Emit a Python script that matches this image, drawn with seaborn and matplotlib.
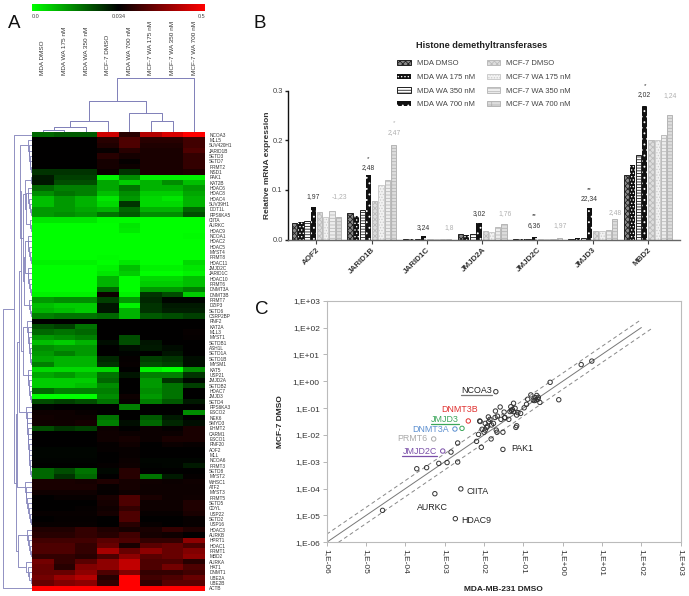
import numpy as np
import pandas as pd
import matplotlib
matplotlib.use("Agg")
import matplotlib.pyplot as plt
import seaborn as sns
from matplotlib.colors import LinearSegmentedColormap

W, H = 689, 596

# ---- panel A data
col_labels = ["MDA DMSO", "MDA WA 175 nM", "MDA WA 350 nM", "MCF-7 DMSO", "MDA WA 700 nM",
              "MCF-7 WA 175 nM", "MCF-7 WA 350 nM", "MCF-7 WA 700 nM"]
row_labels = ["NCOA3", "MLL5", "SUV420H1", "JARID1B", "SETD3", "SETD7", "PRMT2", "NSD1", "PAK1", "KAT2B",
              "HDAC6", "HDAC8", "HDAC4", "SUV39H1", "DOT1L", "RPS6KA5", "CIITA", "AURKC", "HDAC9", "NCOA1",
              "HDAC2", "HDAC5", "MYST4", "PRMT8", "HDAC11", "JMJD2C", "JARID1C", "HDAC10", "PRMT6", "DNMT3A",
              "DNMT3B", "PRMT7", "DZIP3", "SETD6", "CSRP2BP", "RNF2", "KAT2A", "MLL3", "MYST1", "SETDB1",
              "ASH1L", "SETD1A", "SETD1B", "MYSM1", "KAT5", "USP21", "JMJD2A", "SETDB2", "HDAC7", "JMJD3",
              "SETD4", "RPS6KA3", "ESCO2", "NEK6", "SMYD3", "EHMT2", "CARM1", "ESCO1", "RNF20", "AOF2",
              "MLL", "NCOA6", "PRMT3", "SETD8", "MYST2", "WHSC1", "ATF2", "MYST3", "PRMT5", "SETD5",
              "CDYL", "USP22", "SETD2", "USP16", "HDAC3", "AURKB", "HPRT1", "HDAC1", "PRMT1", "MBD2",
              "AURKA", "HAT1", "DNMT1", "UBE2A", "UBE2B", "ACTB"]
# -1 = brightest green, 0 = black, 1 = brightest red
heat_rows = [
    [-.4, -.35, -.35, .8, .15, .7, .85, 1],
    [0, 0, 0, .15, .3, .15, .15, .25],
    [0, 0, 0, .12, .3, .12, .12, .25],
    [0, 0, 0, .03, .15, .1, .1, .3],
    [0, 0, 0, .15, .08, .1, .1, .2],
    [0, 0, 0, .08, .02, .1, .1, .2],
    [0, 0, 0, .08, .05, .1, .1, .2],
    [-.2, -.2, -.2, .04, -.2, .1, .1, .12],
    [-.1, -.25, -.25, -.95, -.55, -.95, -.95, -.95],
    [-.08, -.3, -.3, -.65, -.8, -.7, -.55, -.75],
    [-.4, -.5, -.5, -.65, -.45, -.7, -.7, -.6],
    [-.55, -.45, -.5, -.75, -.55, -.8, -.8, -.65],
    [-.75, -.6, -.7, -.9, -.6, -.85, -.9, -.7],
    [-.75, -.6, -.7, -.85, -.2, -.85, -.85, -.7],
    [-.6, -.6, -.65, -.7, -.4, -.7, -.7, -.4],
    [-.6, -.55, -.6, -.45, -.35, -.55, -.55, -.3],
    [-.9, -.9, -.9, -.98, -.98, -1, -1, -1],
    [-1, -1, -1, -1, -.9, -1, -1, -1],
    [-1, -1, -1, -1, -.92, -1, -1, -1],
    [-1, -1, -1, -1, -1, -1, -1, -.98],
    [-1, -1, -1, -1, -1, -1, -1, -1],
    [-1, -1, -1, -1, -1, -1, -1, -1],
    [-1, -1, -1, -1, -1, -1, -1, -1],
    [-1, -1, -1, -.98, -1, -1, -1, -1],
    [-.95, -.95, -.95, -1, -.9, -1, -1, -.85],
    [-1, -1, -1, -.95, -.75, -.95, -.95, -.9],
    [-1, -1, -1, -.9, -.8, -1, -1, -.95],
    [-1, -1, -1, -.7, -1, -.85, -.85, -.75],
    [-1, -1, -1, -.7, -1, -.8, -.8, -.75],
    [-1, -1, -1, -.4, -1, -.6, -.6, -.5],
    [-.95, -.95, -.95, .05, -.95, -.2, -.3, -.8],
    [-.6, -.55, -.55, -.25, -.6, -.15, -.02, -.02],
    [-.75, -.8, -.8, -.08, -.95, -.2, -.1, -.1],
    [-.7, -.75, -.8, -.08, -.7, -.2, -.12, -.12],
    [-.5, -.45, -.45, -.4, -.7, -.35, -.3, -.25],
    [0, 0, 0, 0, 0, 0, 0, 0],
    [-.3, -.25, -.45, 0, 0, 0, 0, 0],
    [-.4, -.45, -.4, 0, 0, 0, 0, .03],
    [-.6, -.55, -.5, 0, -.3, 0, 0, .02],
    [-.75, -.8, -.7, -.05, -.3, -.08, 0, 0],
    [-.55, -.6, -.6, 0, -.05, -.1, -.04, 0],
    [-.6, -.5, -.6, 0, -.01, 0, -.08, 0],
    [-.65, -.7, -.7, -.15, .02, -.25, -.2, -.05],
    [-.5, -.7, -.7, -.2, .03, -.3, -.25, -.05],
    [-.85, -.85, -.85, -.85, 0, -.95, -1, -.55],
    [-.65, -.6, -.7, -.45, -.08, -.5, -.5, -.2],
    [-.8, -.8, -.8, -.4, 0, -.6, -.2, -.03],
    [-.8, -.8, -.75, -.55, 0, -.6, -.45, -.25],
    [-.4, -.5, -.5, -.5, 0, -.55, -.45, 0],
    [-1, -1, -1, -.55, .05, -.6, -.45, 0],
    [-.3, -.25, -.3, -.45, .03, -.5, -.35, -.1],
    [-.02, 0, 0, 0, -.5, 0, 0, 0],
    [.05, .05, .03, 0, 0, 0, 0, -.55],
    [.07, .05, .05, -.45, 0, -.35, -.1, 0],
    [.06, .06, .08, -.5, -.05, -.4, -.15, -.05],
    [-.3, -.2, -.25, .05, 0, .04, .02, .1],
    [0, 0, 0, .06, .04, .04, .04, .1],
    [0, 0, 0, .06, .08, .04, .1, .1],
    [0, 0, 0, .02, .06, 0, .04, .03],
    [-.02, -.02, -.02, .02, .03, 0, 0, 0],
    [-.02, -.02, -.02, 0, .03, 0, 0, 0],
    [-.01, -.01, -.01, 0, .04, -.02, -.02, -.02],
    [0, 0, 0, .02, .05, -.01, -.02, -.1],
    [-.4, -.3, -.45, -.03, .15, 0, 0, 0],
    [-.4, -.2, -.4, 0, .15, -.45, -.1, .02],
    [.1, .1, .08, .12, .08, .06, .04, .06],
    [.1, .1, .1, .03, .08, .05, .05, .05],
    [.06, .06, .06, .02, .06, .05, .05, .05],
    [0, .03, .03, .1, .3, .1, .05, .06],
    [0, 0, 0, .08, .3, .05, .05, .12],
    [0, 0, .02, .06, .2, .05, .05, .12],
    [.03, .03, .03, .08, .3, .03, .03, .1],
    [0, .02, .02, 0, .3, 0, 0, .03],
    [.03, .03, .03, 0, .15, .03, 0, .03],
    [.12, .12, .2, .12, .08, .1, .2, .12],
    [.15, .15, .2, .15, .25, .08, .06, 0],
    [.25, .25, .25, .35, .3, .2, .2, .55],
    [.3, .3, .2, .4, .1, .35, .4, .3],
    [.3, .3, .2, .65, .4, .55, .4, .5],
    [.2, .2, .15, .3, .55, .35, .4, .55],
    [.45, .2, .35, .55, .75, .3, .3, .15],
    [.4, .15, .5, .55, .75, .3, .45, .3],
    [.4, .4, .55, .3, .5, .2, .2, .25],
    [.45, .6, .7, .15, 1, .25, .3, .4],
    [.4, .5, .55, .2, 1, .2, .35, .35],
    [1, 1, 1, 1, 1, 1, 1, 1],
]
cbar_labels = ["0.0", "0.034", "0.5"]

# ---- panel B data
genes = ["AOF2", "JARID1B", "JARID1C", "JMJD2A", "JMJD2C", "JMJD3", "MBD2"]
treatments = ["MDA DMSO", "MDA WA 175 nM", "MDA WA 350 nM", "MDA WA 700 nM",
              "MCF-7 DMSO", "MCF-7 WA 175 nM", "MCF-7 WA 350 nM", "MCF-7 WA 700 nM"]
mda_dmso = [.033, .053, .002, .011, .001, .002, .13]
mda_175 = [.035, .048, .002, .009, .001, .003, .15]
mda_350 = [.037, .06, .002, .011, .001, .003, .17]
mda_700 = [.065, .13, .007, .033, .006, .063, .27]
mcf_dmso = [.056, .078, .0006, .018, .002, .017, .2]
mcf_175 = [.046, .11, .0006, .015, .002, .018, .2]
mcf_350 = [.057, .12, .0006, .025, .002, .02, .21]
mcf_700 = [.046, .19, .0006, .031, .004, .042, .25]
mda_fold = ["1,97", "2,48", "3,24", "3,02", "6,36", "22,34", "2,02"]
mda_fold_y = [.086, .145, .025, .053, .029, .082, .292]
mda_star = ["", "*", "", "", "**", "**", "*"]
mcf_fold = ["-1,23", "2,47", "1,8", "1,76", "1,97", "2,48", "1,24"]
mcf_fold_y = [.086, .215, .025, .053, .029, .054, .291]
mcf_star = ["", "*", "", "", "", "", ""]

# ---- panel C data (log10 of the expression)
mda_log = [-1.70, -2.40, -2.56, -2.74, -3.28, -3.05, -1.52, -2.59, -3.25, -2.73,
           -4.58, -3.71, -3.46, -3.15, -2.94, -2.67, -2.84, -2.67, -2.19, -2.07,
           -1.82, -2.14, -1.52, -1.67, -1.69, -1.17, -1.19, -.10, -.32, .47,
           .74, -2.11, -2.10, -2.00, -1.97, -1.93, -1.97, -2.05, -1.88, -1.89,
           -1.85, -1.81, -1.76, -1.91, -1.72, -1.71, -1.59, -1.66, -1.57, -1.49,
           -1.47, -1.48, -1.37, -1.34, -1.28, -1.25, -1.32, -1.30, -1.21, -1.25,
           -1.17, -1.14, -1.07, -.98, -.92, -.89, -.81, -.75, -.70, -.66,
           -.63, -.58, -.72, -.68, -.62]
mcf_log = [-.39, -1.48, -1.755, -1.78, -2.15, -2.60, -2.54, -4.01, -4.19, -5.12,
           -4.81, -3.26, -3.22, -3.06, -3.03, -3.01, -2.64, -2.30, -2.24, -2.46,
           -2.15, -1.98, -1.90, -1.90, -1.82, -1.66, -1.72, -.69, -.04, .62,
           .75, -1.48, -1.50, -1.90, -1.82, -1.72, -1.57, -1.79, -1.51, -1.33,
           -1.42, -1.63, -1.57, -1.67, -1.35, -1.11, -.96, -1.30, -1.42, -1.15,
           -1.35, -1.36, -1.42, -1.13, -1.05, -.82, -.95, -1.10, -1.01, -1.13,
           -1.26, -1.17, -1.20, -.99, -.86, -.67, -.51, -.70, -.61, -.53,
           -.67, -.79, -.72, -.70, -.60]
# the first six points are the coloured / named ones
point_colors = ["#333333", "#e0302f", "#3aa65a", "#5b8fd0", "#aaaaaa", "#7a4fa8"]
label_names = ["NCOA3", "DNMT3B", "JMJD3", "DNMT3A", "PRMT6", "JMJD2C", "PAK1", "CIITA", "AURKC", "HDAC9"]
label_x_log = [-2.19, -2.63, -2.99, -3.36, -3.82, -3.64, -1.04, -2.16, -3.31, -2.19]
label_y_log = [-.33, -1.05, -1.42, -1.78, -2.13, -2.61, -2.52, -4.09, -4.72, -5.18]
label_colors = ["#222222", "#e0302f", "#3aa65a", "#5b8fd0", "#aaaaaa", "#7a4fa8",
                "#222222", "#222222", "#222222", "#222222"]
label_underline = ["#777777", None, "#3aa65a", None, None, "#7a4fa8", None, None, None, None]
decades = list(range(-6, 4))


def px_rect(left, top, right, bottom):
    return [left / W, 1 - bottom / H, (right - left) / W, (bottom - top) / H]


sns.set_theme(style="white")
plt.rcParams["font.family"] = ["Liberation Sans", "DejaVu Sans"]
plt.rcParams["hatch.linewidth"] = 0.6

fig = plt.figure(figsize=(W / 100, H / 100), dpi=100)

# ---------- A: heat map with colour bar
heat_ax = fig.add_axes(px_rect(32, 132, 205, 591))
cbar_ax = fig.add_axes(px_rect(32, 3.5, 205, 11))
heat_cmap = LinearSegmentedColormap.from_list("gbr", ["#00ff00", "#000000", "#ff0000"])
heat_df = pd.DataFrame(heat_rows, index=row_labels, columns=col_labels)
sns.heatmap(heat_df, ax=heat_ax, cmap=heat_cmap, vmin=-1, vmax=1, cbar_ax=cbar_ax,
            cbar_kws={"orientation": "horizontal", "ticks": [-1, 0, 1]},
            xticklabels=False, yticklabels=row_labels)
heat_ax.yaxis.tick_right()
heat_ax.tick_params(axis="y", length=0, pad=3, labelsize=3.4, labelcolor="#333333", labelrotation=0)
heat_ax.collections[0].colorbar.outline.set_visible(False)
cbar_ax.tick_params(axis="x", length=0, pad=2, labelsize=4, labelcolor="#444444")
cbar_ax.set_xticklabels(cbar_labels)
cbar_ax.get_xticklabels()[0].set_ha("left")
cbar_ax.get_xticklabels()[2].set_ha("right")

TREE_COLOR = "#7f7fb8"


def comb(first, last, depth):
    # ladder over neighbouring rows, tight near the heat map
    node = last
    d = 1.5
    step = (depth - 1.5) / max(last - first, 1)
    for r in range(last - 1, first - 1, -1):
        node = (d, r, node)
        d += step
    return node


def draw_row_tree(ax, node):
    if not isinstance(node, tuple):
        return node + 0.5, 0
    depth, a, b = node
    ya, da = draw_row_tree(ax, a)
    yb, db = draw_row_tree(ax, b)
    ax.plot([da, depth, depth, db], [ya, ya, yb, yb], color=TREE_COLOR, lw=0.6, solid_capstyle="butt")
    return (ya + yb) / 2, depth


def draw_col_tree(ax, node):
    if not isinstance(node, tuple):
        return node + 0.5, 0
    height, a, b = node
    xa, ha = draw_col_tree(ax, a)
    xb, hb = draw_col_tree(ax, b)
    ax.plot([xa, xa, xb, xb], [ha, height, height, hb], color=TREE_COLOR, lw=0.7, solid_capstyle="butt")
    return (xa + xb) / 2, height


green_top = (7, comb(8, 9, 4), (6, comb(10, 15, 5), comb(16, 18, 3)))
green_mid = (7.5, comb(19, 24, 5), comb(25, 30, 5))
green_all = (9, green_top, (8, green_mid, comb(31, 34, 4)))
mid_all = (9.5, comb(35, 43, 5), comb(44, 50, 5))
black_top = (11, (12, comb(1, 7, 4), green_all), mid_all)
black_low = (13, black_top, comb(51, 64, 6))
upper = (15, black_low, comb(65, 73, 8))
lower = (14, comb(74, 79, 6), comb(80, 84, 7))
row_tree = (29, 85, (18, 0, (16, upper, lower)))
col_tree = (54, (31, (11, (5, (2, 0, 1), 2), 3), (19, 4, (11, 5, 6))), 7)

tree_ax = fig.add_axes(px_rect(0, 132, 32, 591))
draw_row_tree(tree_ax, row_tree)
tree_ax.set_xlim(32, 0)
tree_ax.set_ylim(len(row_labels), 0)
tree_ax.axis("off")

top_ax = fig.add_axes(px_rect(32, 76, 205, 132))
draw_col_tree(top_ax, col_tree)
top_ax.set_xlim(0, len(col_labels))
top_ax.set_ylim(0, 56)
top_ax.set_xticks(np.arange(len(col_labels)) + 0.5)
top_ax.set_xticklabels(col_labels, rotation=90, ha="center", va="bottom", fontsize=4.6, color="#333333")
top_ax.xaxis.tick_top()
top_ax.tick_params(axis="x", length=0, pad=1)
top_ax.set_yticks([])
sns.despine(ax=top_ax, left=True, bottom=True)

# ---------- B: bars
bar_ax = fig.add_axes(px_rect(287.5, 90.7, 680, 239.5))
bar_df = pd.DataFrame({"gene": genes * 8,
                       "treatment": [t for t in treatments for _ in genes],
                       "expr": mda_dmso + mda_175 + mda_350 + mda_700 + mcf_dmso + mcf_175 + mcf_350 + mcf_700})
bar_fill = ["#8a8a8a", "#111111", "white", "#111111", "#dddddd", "#f2f2f2", "#eeeeee", "#dddddd"]
bar_edge = ["#222222", "white", "#222222", "white", "#bbbbbb", "#cccccc", "#bbbbbb", "#b5b5b5"]
bar_hatch = ["xxxxxx", ".....", "------", "...", "xxxxxx", "......", "-----", "----+"]
bar_lw = [0.7, 0, 0.7, 0, 0.7, 0.7, 0.7, 0.7]
sns.barplot(data=bar_df, x="gene", y="expr", hue="treatment", hue_order=treatments, palette=bar_fill,
            width=0.9, gap=0.15, saturation=1, legend=False, ax=bar_ax)
for bars, edge, hatch, lw in zip(bar_ax.containers, bar_edge, bar_hatch, bar_lw):
    for patch in bars:
        patch.set_edgecolor(edge)
        patch.set_hatch(hatch)
        patch.set_linewidth(lw)
bar_ax.set_xlim(-0.524, 6.58)
bar_ax.set_ylim(0, 0.3)
bar_ax.set_yticks([0, .1, .2, .3], ["0.0", "0.1", "0.2", "0.3"])
bar_ax.tick_params(axis="y", left=True, length=2.5, width=1, pad=1, labelsize=5.4, labelcolor="#444444", color="#222222")
bar_ax.tick_params(axis="x", bottom=True, length=3, width=0.8, pad=2, color="#444444")
bar_ax.set_xticks(range(len(genes)))
bar_ax.set_xticklabels(genes, rotation=45, ha="right", rotation_mode="anchor",
                       fontsize=5.8, fontweight="bold", color="#333333")
bar_ax.set_xlabel("")
bar_ax.set_ylabel("Relative mRNA expression", fontsize=6, fontweight="bold", color="#333333", labelpad=1)
sns.despine(ax=bar_ax)
bar_ax.spines["left"].set(color="#111111", linewidth=1)
bar_ax.spines["bottom"].set(color="#666666", linewidth=1)
for i in range(len(genes)):
    bar_ax.text(i - 0.06, mda_fold_y[i], mda_fold[i], ha="center", va="center", fontsize=4.9, color="#333333", clip_on=False)
    bar_ax.text(i + 0.41, mcf_fold_y[i], mcf_fold[i], ha="center", va="center", fontsize=4.9, color="#b0b0b0", clip_on=False)
    if mda_star[i]:
        bar_ax.text(i - 0.06, mda_fold_y[i] + .019, mda_star[i], ha="center", va="center", fontsize=4.5, color="#333333", clip_on=False)
    if mcf_star[i]:
        bar_ax.text(i + 0.41, mcf_fold_y[i] + .02, mcf_star[i], ha="center", va="center", fontsize=4.5, color="#b0b0b0", clip_on=False)

handles = [bars[0] for bars in bar_ax.containers]
fig.legend(handles, treatments, ncol=2, frameon=False, fontsize=5.5, loc="upper left",
           bbox_to_anchor=(397.5 / W, 1 - 60 / H), borderaxespad=0, borderpad=0,
           handlelength=1.75, handleheight=0.7, handletextpad=0.75,
           labelspacing=0.82, columnspacing=1.55, labelcolor="#444444")
fig.text(482 / W, 1 - 45.5 / H, "Histone demethyltransferases", ha="center", va="center",
         fontsize=6.6, fontweight="bold", color="#222222")

# ---------- C: scatter
sc_ax = fig.add_axes(px_rect(326.7, 300.7, 680.7, 542.3))
sc_ax.set_xscale("log")
sc_ax.set_yscale("log")
mda_vals = 10 ** np.array(mda_log)
mcf_vals = 10 ** np.array(mcf_log)
edge_colors = point_colors + ["#333333"] * (len(mda_log) - len(point_colors))
sc_ax.scatter(mda_vals, mcf_vals, s=10, facecolors="none", edgecolors=edge_colors, linewidths=0.7, zorder=3)
sns.lineplot(x=[1e-6, 100], y=[1e-6, 100], color="#777777", lw=0.7, ax=sc_ax, errorbar=None)
sns.lineplot(x=[1e-6, 100], y=[2e-6, 200], color="#888888", lw=0.7, ls=(0, (4, 3)), ax=sc_ax, errorbar=None)
sns.lineplot(x=[2e-6, 200], y=[1e-6, 100], color="#888888", lw=0.7, ls=(0, (4, 3)), ax=sc_ax, errorbar=None)
sc_ax.set_xlim(1e-6, 1e3)
sc_ax.set_ylim(1e-6, 1e3)
tick_vals = [10.0 ** d for d in decades]
tick_text = [f"1,E{d:+03d}" for d in decades]
sc_ax.set_xticks(tick_vals, tick_text, rotation=-90, fontsize=6, color="#333333")
sc_ax.set_yticks(tick_vals, tick_text, fontsize=6, color="#333333")
sc_ax.minorticks_off()
sc_ax.tick_params(axis="both", bottom=True, left=True, length=3, width=0.6, pad=2, color="#aaaaaa")
for spine in sc_ax.spines.values():
    spine.set(color="#bbbbbb", linewidth=0.8)
sc_ax.set_xlabel("MDA-MB-231 DMSO", fontsize=6, fontweight="bold", color="#222222", labelpad=7)
sc_ax.set_ylabel("MCF-7 DMSO", fontsize=6, fontweight="bold", color="#222222", labelpad=6)

name_texts = []
for name, lx, ly, c in zip(label_names, label_x_log, label_y_log, label_colors):
    name_texts.append(sc_ax.text(10 ** lx, 10 ** ly, name, ha="center", va="center", fontsize=6.4, color=c))

# underlines follow the size of the drawn text
fig.canvas.draw()
renderer = fig.canvas.get_renderer()
to_data = sc_ax.transData.inverted()
for text, c in zip(name_texts, label_underline):
    if c is None:
        continue
    box = text.get_window_extent(renderer)
    (x0, y0), (x1, _) = to_data.transform([(box.x0, box.y0 - 0.5), (box.x1, box.y0)])
    sc_ax.plot([x0, x1], [y0, y0], color=c, lw=0.9, zorder=2)

for letter, px, py in [("A", 14, 23), ("B", 260, 23), ("C", 262, 310)]:
    fig.text(px / W, 1 - py / H, letter, ha="center", va="center", fontsize=13.5, color="#111111")

fig.savefig("out.png", dpi=100)
